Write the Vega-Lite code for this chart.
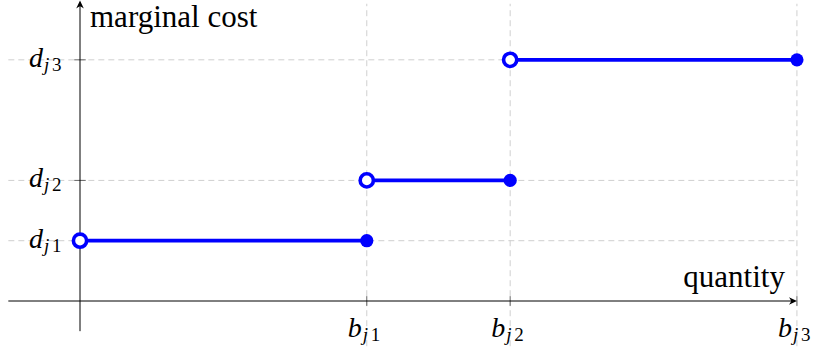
{
  "$schema": "https://vega.github.io/schema/vega-lite/v6.json",
  "width": 814,
  "height": 356,
  "autosize": {"type": "fit", "contains": "padding"},
  "padding": 0,
  "background": "white",
  "config": {"view": {"stroke": null}},
  "datasets": {
    "hgrid": [{"v": 1}, {"v": 2}, {"v": 4}],
    "vgrid": [{"v": 2}, {"v": 3}, {"v": 5}],
    "segments": [
      {"x0": 0, "x1": 2, "y": 1},
      {"x0": 2, "x1": 3, "y": 2},
      {"x0": 3, "x1": 5, "y": 4}
    ],
    "openpts": [{"x": 0, "y": 1}, {"x": 2, "y": 2}, {"x": 3, "y": 4}],
    "closedpts": [{"x": 2, "y": 1}, {"x": 3, "y": 2}, {"x": 5, "y": 4}],
    "ylabels": [{"v": 1, "j": "j", "n": "1"}, {"v": 2, "j": "j", "n": "2"}, {"v": 4, "j": "j", "n": "3"}],
    "xlabels": [{"v": 2, "j": "j", "n": "1"}, {"v": 3, "j": "j", "n": "2"}, {"v": 5, "j": "j", "n": "3"}],
    "one": [{"k": 1}]
  },
  "layer": [
    {
      "data": {"name": "hgrid"},
      "mark": {"type": "rule", "color": "#cfcfcf", "strokeWidth": 1, "strokeDash": [6, 4]},
      "encoding": {
        "y": {"field": "v", "type": "quantitative", "scale": {"domain": [-0.912, 4.992], "nice": false, "zero": false}, "axis": null},
        "x": {"datum": -0.5, "type": "quantitative", "scale": {"domain": [-0.558, 5.119], "nice": false, "zero": false}, "axis": null},
        "x2": {"datum": 5}
      }
    },
    {
      "data": {"name": "vgrid"},
      "mark": {"type": "rule", "color": "#cfcfcf", "strokeWidth": 1, "strokeDash": [6, 4]},
      "encoding": {
        "x": {"field": "v", "type": "quantitative", "scale": {"domain": [-0.558, 5.119], "nice": false, "zero": false}, "axis": null},
        "y": {"datum": -0.75, "type": "quantitative", "scale": {"domain": [-0.912, 4.992], "nice": false, "zero": false}, "axis": null},
        "y2": {"datum": 4.93}
      }
    },
    {
      "data": {"name": "vgrid"},
      "mark": {"type": "rule", "color": "#666666", "strokeWidth": 1},
      "encoding": {
        "x": {"field": "v", "type": "quantitative", "scale": {"domain": [-0.558, 5.119], "nice": false, "zero": false}, "axis": null},
        "y": {"datum": -0.08, "type": "quantitative", "scale": {"domain": [-0.912, 4.992], "nice": false, "zero": false}, "axis": null},
        "y2": {"datum": 0.08}
      }
    },
    {
      "data": {"name": "hgrid"},
      "mark": {"type": "rule", "color": "#666666", "strokeWidth": 1},
      "encoding": {
        "y": {"field": "v", "type": "quantitative", "scale": {"domain": [-0.912, 4.992], "nice": false, "zero": false}, "axis": null},
        "x": {"datum": -0.04, "type": "quantitative", "scale": {"domain": [-0.558, 5.119], "nice": false, "zero": false}, "axis": null},
        "x2": {"datum": 0.04}
      }
    },
    {
      "data": {"name": "one"},
      "mark": {"type": "rule", "color": "black", "strokeWidth": 1},
      "encoding": {
        "x": {"datum": -0.5, "type": "quantitative", "scale": {"domain": [-0.558, 5.119], "nice": false, "zero": false}, "axis": null},
        "x2": {"datum": 4.98},
        "y": {"datum": 0, "type": "quantitative", "scale": {"domain": [-0.912, 4.992], "nice": false, "zero": false}, "axis": null}
      }
    },
    {
      "data": {"name": "one"},
      "mark": {"type": "rule", "color": "black", "strokeWidth": 1},
      "encoding": {
        "y": {"datum": -0.5, "type": "quantitative", "scale": {"domain": [-0.912, 4.992], "nice": false, "zero": false}, "axis": null},
        "y2": {"datum": 4.95},
        "x": {"datum": 0, "type": "quantitative", "scale": {"domain": [-0.558, 5.119], "nice": false, "zero": false}, "axis": null}
      }
    },
    {
      "data": {"name": "one"},
      "mark": {"type": "point", "shape": "M 0 0 L -2 -0.95 Q -1.5 -0.3 -1.45 0 Q -1.5 0.3 -2 0.95 Z", "filled": true, "fill": "black", "strokeWidth": 0, "size": 64, "angle": 0, "opacity": 1},
      "encoding": {
        "x": {"datum": 5, "type": "quantitative", "scale": {"domain": [-0.558, 5.119], "nice": false, "zero": false}, "axis": null},
        "y": {"datum": 0, "type": "quantitative", "scale": {"domain": [-0.912, 4.992], "nice": false, "zero": false}, "axis": null}
      }
    },
    {
      "data": {"name": "one"},
      "mark": {"type": "point", "shape": "M 0 0 L -2 -0.95 Q -1.5 -0.3 -1.45 0 Q -1.5 0.3 -2 0.95 Z", "filled": true, "fill": "black", "strokeWidth": 0, "size": 64, "angle": 270, "opacity": 1},
      "encoding": {
        "x": {"datum": 0, "type": "quantitative", "scale": {"domain": [-0.558, 5.119], "nice": false, "zero": false}, "axis": null},
        "y": {"datum": 4.985, "type": "quantitative", "scale": {"domain": [-0.912, 4.992], "nice": false, "zero": false}, "axis": null}
      }
    },
    {
      "data": {"name": "segments"},
      "mark": {"type": "rule", "color": "#0000ff", "strokeWidth": 3.8},
      "encoding": {
        "x": {"field": "x0", "type": "quantitative", "scale": {"domain": [-0.558, 5.119], "nice": false, "zero": false}, "axis": null},
        "x2": {"field": "x1"},
        "y": {"field": "y", "type": "quantitative", "scale": {"domain": [-0.912, 4.992], "nice": false, "zero": false}, "axis": null}
      }
    },
    {
      "data": {"name": "closedpts"},
      "mark": {"type": "point", "shape": "circle", "filled": true, "color": "#0000ff", "size": 175, "opacity": 1},
      "encoding": {
        "x": {"field": "x", "type": "quantitative", "scale": {"domain": [-0.558, 5.119], "nice": false, "zero": false}, "axis": null},
        "y": {"field": "y", "type": "quantitative", "scale": {"domain": [-0.912, 4.992], "nice": false, "zero": false}, "axis": null}
      }
    },
    {
      "data": {"name": "openpts"},
      "mark": {"type": "point", "shape": "circle", "filled": true, "fill": "white", "stroke": "#0000ff", "strokeWidth": 3.6, "size": 175, "opacity": 1},
      "encoding": {
        "x": {"field": "x", "type": "quantitative", "scale": {"domain": [-0.558, 5.119], "nice": false, "zero": false}, "axis": null},
        "y": {"field": "y", "type": "quantitative", "scale": {"domain": [-0.912, 4.992], "nice": false, "zero": false}, "axis": null}
      }
    },
    {
      "data": {"name": "ylabels"},
      "mark": {"type": "text", "text": "d", "font": "Liberation Serif, Times New Roman, serif", "fontStyle": "italic", "fontSize": 28, "align": "right", "baseline": "alphabetic", "dx": -37, "dy": 7, "color": "black"},
      "encoding": {
        "y": {"field": "v", "type": "quantitative", "scale": {"domain": [-0.912, 4.992], "nice": false, "zero": false}, "axis": null},
        "x": {"datum": 0, "type": "quantitative", "scale": {"domain": [-0.558, 5.119], "nice": false, "zero": false}, "axis": null}
      }
    },
    {
      "data": {"name": "ylabels"},
      "mark": {"type": "text", "font": "Liberation Serif, Times New Roman, serif", "fontStyle": "italic", "fontSize": 19, "align": "left", "baseline": "alphabetic", "dx": -36, "dy": 11, "color": "black"},
      "encoding": {
        "text": {"field": "j"},
        "y": {"field": "v", "type": "quantitative", "scale": {"domain": [-0.912, 4.992], "nice": false, "zero": false}, "axis": null},
        "x": {"datum": 0, "type": "quantitative", "scale": {"domain": [-0.558, 5.119], "nice": false, "zero": false}, "axis": null}
      }
    },
    {
      "data": {"name": "ylabels"},
      "mark": {"type": "text", "font": "Liberation Serif, Times New Roman, serif", "fontSize": 19, "align": "left", "baseline": "alphabetic", "dx": -28, "dy": 11, "color": "black"},
      "encoding": {
        "text": {"field": "n"},
        "y": {"field": "v", "type": "quantitative", "scale": {"domain": [-0.912, 4.992], "nice": false, "zero": false}, "axis": null},
        "x": {"datum": 0, "type": "quantitative", "scale": {"domain": [-0.558, 5.119], "nice": false, "zero": false}, "axis": null}
      }
    },
    {
      "data": {"name": "xlabels"},
      "mark": {"type": "text", "text": "b", "font": "Liberation Serif, Times New Roman, serif", "fontStyle": "italic", "fontSize": 28, "align": "right", "baseline": "alphabetic", "dx": -5, "dy": 36, "color": "black"},
      "encoding": {
        "x": {"field": "v", "type": "quantitative", "scale": {"domain": [-0.558, 5.119], "nice": false, "zero": false}, "axis": null},
        "y": {"datum": 0, "type": "quantitative", "scale": {"domain": [-0.912, 4.992], "nice": false, "zero": false}, "axis": null}
      }
    },
    {
      "data": {"name": "xlabels"},
      "mark": {"type": "text", "font": "Liberation Serif, Times New Roman, serif", "fontStyle": "italic", "fontSize": 19, "align": "left", "baseline": "alphabetic", "dx": -4, "dy": 40, "color": "black"},
      "encoding": {
        "text": {"field": "j"},
        "x": {"field": "v", "type": "quantitative", "scale": {"domain": [-0.558, 5.119], "nice": false, "zero": false}, "axis": null},
        "y": {"datum": 0, "type": "quantitative", "scale": {"domain": [-0.912, 4.992], "nice": false, "zero": false}, "axis": null}
      }
    },
    {
      "data": {"name": "xlabels"},
      "mark": {"type": "text", "font": "Liberation Serif, Times New Roman, serif", "fontSize": 19, "align": "left", "baseline": "alphabetic", "dx": 4, "dy": 40, "color": "black"},
      "encoding": {
        "text": {"field": "n"},
        "x": {"field": "v", "type": "quantitative", "scale": {"domain": [-0.558, 5.119], "nice": false, "zero": false}, "axis": null},
        "y": {"datum": 0, "type": "quantitative", "scale": {"domain": [-0.912, 4.992], "nice": false, "zero": false}, "axis": null}
      }
    },
    {
      "data": {"name": "one"},
      "mark": {"type": "text", "text": "marginal cost", "font": "Liberation Serif, Times New Roman, serif", "fontSize": 31, "align": "left", "baseline": "alphabetic", "dx": 10, "dy": 26, "color": "black"},
      "encoding": {
        "x": {"datum": 0, "type": "quantitative", "scale": {"domain": [-0.558, 5.119], "nice": false, "zero": false}, "axis": null},
        "y": {"datum": 4.97, "type": "quantitative", "scale": {"domain": [-0.912, 4.992], "nice": false, "zero": false}, "axis": null}
      }
    },
    {
      "data": {"name": "one"},
      "mark": {"type": "text", "text": "quantity", "font": "Liberation Serif, Times New Roman, serif", "fontSize": 31, "align": "right", "baseline": "alphabetic", "dx": -12, "dy": -14, "color": "black"},
      "encoding": {
        "x": {"datum": 5, "type": "quantitative", "scale": {"domain": [-0.558, 5.119], "nice": false, "zero": false}, "axis": null},
        "y": {"datum": 0, "type": "quantitative", "scale": {"domain": [-0.912, 4.992], "nice": false, "zero": false}, "axis": null}
      }
    }
  ]
}
